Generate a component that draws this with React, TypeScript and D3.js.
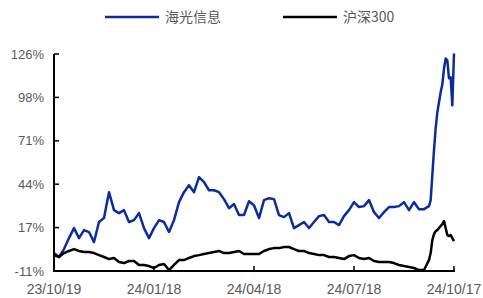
import React, { useEffect, useRef } from 'react';
import * as d3 from 'd3';

// trading-day offsets from 23/10/19
const days = [
  0, 3, 6, 9, 12, 15, 18, 21, 24, 27, 30, 33, 36, 39, 42, 45, 48, 51, 54, 57,
  60, 63, 66, 69, 72, 75, 78, 81, 84, 87, 90, 93, 96, 99, 102, 105, 108, 111, 114, 117,
  120, 123, 126, 129, 132, 135, 138, 141, 144, 147, 150, 153, 156, 159, 162, 165, 168, 171, 174, 177,
  180, 183, 186, 189, 192, 195, 198, 201, 204, 207, 210, 213, 216, 219, 222,
  225, 226, 227, 228, 229, 230, 231, 232, 233, 234, 235, 236, 237, 238, 239, 240,
];

const haiguang = [
  0.5, -2.0, 3.0, 9.9, 16.2, 9.9, 14.9, 13.7, 7.4, 20.0, 22.5, 38.8, 27.5, 25.6, 27.5, 20.0, 21.2, 25.6, 16.2, 9.9,
  16.2, 21.2, 20.0, 13.7, 21.2, 32.5, 38.8, 43.2, 38.8, 48.2, 45.1, 40.0, 40.0, 38.8, 34.4, 28.7, 31.3, 24.4, 24.4, 33.1,
  30.6, 22.5, 33.8, 35.0, 34.4, 24.4, 23.1, 25.6, 16.2, 18.1, 20.0, 16.2, 20.0, 23.7, 24.4, 20.0, 20.0, 18.1, 23.7, 27.5,
  32.5, 29.4, 30.0, 33.8, 26.2, 22.5, 26.2, 29.4, 29.4, 30.0, 32.5, 27.5, 32.5, 28.1, 28.1,
  30.0, 33.8, 49.5, 65.2, 79.0, 89.0, 95.3, 101.6, 106.6, 116.6, 122.9, 121.7, 110.4, 111.0, 93.4, 126.0,
];

const hs300 = [
  -0.8, -2.0, 0.5, 1.8, 3.0, 1.8, 1.1, 1.1, 0.5, -0.8, -2.0, -3.3, -2.6, -5.1, -5.8, -4.5, -4.5, -7.0, -7.0, -7.7,
  -8.9, -7.0, -6.4, -10.2, -7.0, -3.9, -3.9, -2.6, -1.4, -0.8, -0.1, 0.5, 1.1, 1.8, 0.5, 0.5, 1.1, 1.8, -0.1, -0.1,
  -0.1, -0.1, 1.8, 3.0, 3.6, 3.6, 4.3, 4.3, 3.0, 1.8, 1.8, 0.5, -0.1, -0.8, -0.8, -2.0, -2.0, -2.6, -3.3, -1.4,
  -0.8, -2.6, -3.3, -2.6, -4.5, -5.1, -5.1, -5.1, -5.8, -7.0, -7.7, -8.3, -8.9, -10.2, -10.2,
  -3.9, 0.5, 8.7, 12.4, 14.3, 14.9, 16.2, 17.5, 18.7, 20.6, 16.2, 11.8, 11.2, 11.8, 9.9, 8.0,
];

const yTicks = [-10.8, 16.5, 43.8, 71.1, 98.4, 125.7];
const xTickDays = [0, 60, 120, 180, 240];
const xTickLabels = ['23/10/19', '24/01/18', '24/04/18', '24/07/18', '24/10/17'];

const seriesNames = ['海光信息', '沪深300'];
const seriesColors = ['#0B2D9B', '#000000'];

const W = 483;
const H = 298;
const margin = { top: 54, right: 29, bottom: 27, left: 54 };

export default function App() {
  const ref = useRef<SVGSVGElement>(null);

  useEffect(() => {
    const svg = d3.select(ref.current);
    svg.selectAll('*').remove();

    const x = d3.scaleLinear().domain([0, 240]).range([margin.left, W - margin.right]);
    const y = d3.scaleLinear().domain([-10.8, 125.7]).range([H - margin.bottom, margin.top]);

    const numFont = '"Liberation Sans", Arial, sans-serif';

    // lines
    const line = d3.line<number>()
      .x((_, i) => x(days[i]))
      .y((d) => y(d));

    [haiguang, hs300].forEach((vals, k) => {
      svg.append('path')
        .datum(vals)
        .attr('d', line)
        .attr('fill', 'none')
        .attr('stroke', seriesColors[k])
        .attr('stroke-width', 2.5)
        .attr('stroke-linejoin', 'round');
    });

    // y axis
    const yAxis = svg.append('g').attr('transform', `translate(${margin.left},0)`);
    yAxis.append('line')
      .attr('x1', 0).attr('x2', 0)
      .attr('y1', y(125.7)).attr('y2', y(-10.8))
      .attr('stroke', '#000').attr('stroke-width', 2);
    yAxis.selectAll('line.tick').data(yTicks).enter().append('line')
      .attr('class', 'tick')
      .attr('x1', 0).attr('x2', 5)
      .attr('y1', (d) => y(d)).attr('y2', (d) => y(d))
      .attr('stroke', '#000').attr('stroke-width', 1.5);
    yAxis.selectAll('text').data(yTicks).enter().append('text')
      .attr('x', -10)
      .attr('y', (d) => y(d))
      .attr('dy', '0.35em')
      .attr('text-anchor', 'end')
      .attr('font-family', numFont)
      .attr('font-size', 13)
      .attr('fill', '#595959')
      .text((d) => `${Math.round(d)}%`);

    // x axis
    const xAxis = svg.append('g').attr('transform', `translate(0,${H - margin.bottom})`);
    xAxis.append('line')
      .attr('x1', x(0) - 1).attr('x2', x(240) + 1)
      .attr('y1', 0).attr('y2', 0)
      .attr('stroke', '#000').attr('stroke-width', 2);
    xAxis.selectAll('line.tick').data(xTickDays).enter().append('line')
      .attr('class', 'tick')
      .attr('x1', (d) => x(d)).attr('x2', (d) => x(d))
      .attr('y1', 0).attr('y2', -5)
      .attr('stroke', '#000').attr('stroke-width', 1.5);
    xAxis.selectAll('text').data(xTickDays).enter().append('text')
      .attr('x', (d) => x(d))
      .attr('y', 18)
      .attr('dy', '0.35em')
      .attr('text-anchor', 'middle')
      .attr('font-family', numFont)
      .attr('font-size', 14)
      .attr('fill', '#595959')
      .text((_, i) => xTickLabels[i]);

    // legend
    const legendX = [105, 283];
    const lg = svg.append('g').attr('transform', 'translate(0,17)');
    seriesNames.forEach((name, k) => {
      lg.append('line')
        .attr('x1', legendX[k]).attr('x2', legendX[k] + 54)
        .attr('y1', 0).attr('y2', 0)
        .attr('stroke', seriesColors[k])
        .attr('stroke-width', 2.5);
      lg.append('text')
        .attr('x', legendX[k] + 60)
        .attr('y', 0)
        .attr('dy', '0.35em')
        .attr('font-family', '"Noto Sans CJK SC", "Liberation Sans", sans-serif')
        .attr('font-size', 14)
        .attr('fill', '#595959')
        .text(name);
    });
  }, []);

  return (
    <div style={{ position: 'absolute', left: 0, top: 0 }}>
      <svg ref={ref} width={W} height={H} style={{ display: 'block', background: '#fff' }} />
    </div>
  );
}
